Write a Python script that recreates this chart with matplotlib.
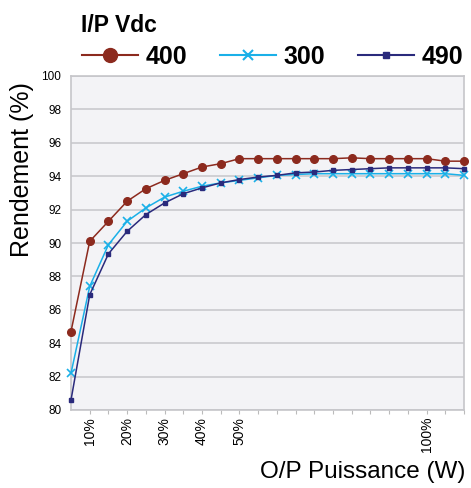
import matplotlib
matplotlib.use('Agg')
import matplotlib.pyplot as plt
from matplotlib.lines import Line2D
import numpy as np

plt.rcParams['font.family'] = ['Liberation Sans', 'DejaVu Sans']

# load levels (%), one point every 5 %
load_pct = [5, 10, 15, 20, 25, 30, 35, 40, 45, 50, 55,
            60, 65, 70, 75, 80, 85, 90, 95, 100, 105, 110]
tick_labels = ['', '10%', '', '20%', '', '30%', '', '40%', '', '50%', '',
               '', '', '', '', '', '', '', '', '100%', '', '']

eff_400 = [84.7, 90.1, 91.3, 92.5, 93.25, 93.75, 94.15, 94.55, 94.75, 95.05, 95.05,
           95.05, 95.05, 95.05, 95.05, 95.1, 95.05, 95.05, 95.05, 95.05, 94.9, 94.9]
eff_300 = [82.2, 87.4, 89.9, 91.3, 92.1, 92.75, 93.1, 93.4, 93.6, 93.75, 93.9,
           94.05, 94.1, 94.15, 94.15, 94.15, 94.15, 94.15, 94.15, 94.15, 94.15, 94.05]
eff_490 = [80.6, 86.9, 89.35, 90.7, 91.7, 92.4, 92.95, 93.3, 93.6, 93.8, 93.95,
           94.05, 94.2, 94.25, 94.35, 94.4, 94.45, 94.5, 94.5, 94.5, 94.5, 94.45]

c400, c300, c490 = '#8c2a1e', '#1ab0e8', '#2a2a7c'

fig = plt.figure(figsize=(4.71, 4.88), dpi=100)
ax = fig.add_axes([71/471, 1 - 410/488, 393/471, 334/488])
ax.set_facecolor('#f3f3f6')

x = np.arange(len(load_pct))
ax.plot(x, eff_400, color=c400, marker='o', markersize=5.5, lw=1.1, clip_on=False, zorder=3)
ax.plot(x, eff_300, color=c300, marker='x', markersize=6, mew=1.2, lw=1.1, clip_on=False, zorder=4)
ax.plot(x, eff_490, color=c490, marker='s', markersize=2.6, lw=1.1, clip_on=False, zorder=5)

ax.set_xlim(0, len(load_pct) - 1)
ax.set_ylim(80, 100)
ax.set_yticks(np.arange(80, 101, 2))
ax.tick_params(axis='y', labelsize=8.5, length=0, pad=7)
ax.set_xticks(x[1:])
ax.set_xticklabels(tick_labels[1:], rotation=90, fontsize=10)
ax.tick_params(axis='x', length=3, color='#bbbbbb', direction='out', pad=2)
ax.grid(axis='y', color='#c6c6ca', lw=1.1)
ax.set_axisbelow(True)
for s in ax.spines.values():
    s.set_color('#c6c6ca')
    s.set_linewidth(1.2)

fig.text(22/471, 1 - 170/488, 'Rendement (%)', rotation=90, fontsize=18,
         ha='center', va='center')
fig.text(465/471, 1 - 472/488, 'O/P Puissance (W)', fontsize=17.5,
         ha='right', va='center')
fig.text(81/471, 1 - 25/488, 'I/P Vdc', fontsize=16.5, fontweight='bold',
         ha='left', va='center')

handles = [Line2D([], [], color=c400, marker='o', markersize=10, lw=1.5),
           Line2D([], [], color=c300, marker='x', markersize=7, mew=1.5, lw=1.5),
           Line2D([], [], color=c490, marker='s', markersize=4.5, lw=1.5)]
fig.legend(handles, ['400', '300', '490'], loc='center left',
           bbox_to_anchor=(82/471, 1 - 57/488), ncol=3, frameon=False,
           prop={'size': 18, 'weight': 'bold'}, handlelength=2.25,
           columnspacing=1.3, handletextpad=0.3, borderpad=0, borderaxespad=0)

fig.savefig('out.png', dpi=100)
